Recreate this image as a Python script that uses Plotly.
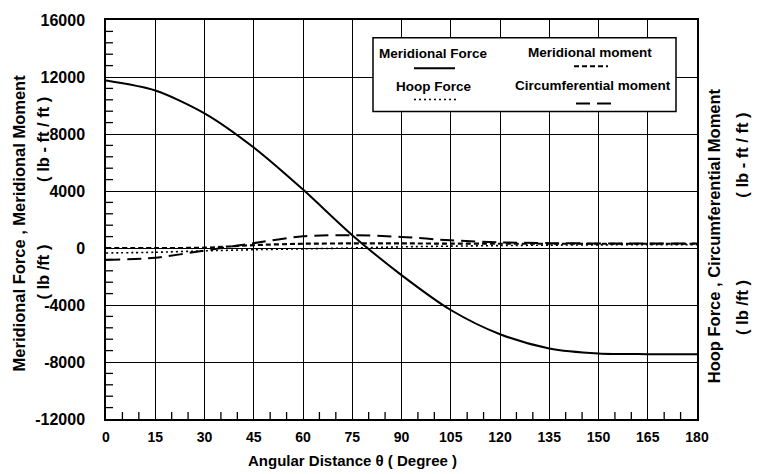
import plotly.graph_objects as go

# ---- data ----
theta = [0, 15, 30, 45, 60, 75, 90, 105, 120, 135, 150, 165, 180]
meridional_force = [11750, 11050, 9450, 7050, 4100, 900, -1900, -4350, -6050, -7050, -7400, -7450, -7450]
meridional_moment = [0, 0, 20, 200, 300, 320, 320, 310, 300, 300, 300, 300, 300]
hoop_force = [-350, -300, -200, -120, -60, 0, 80, 130, 170, 200, 220, 230, 230]
circ_moment = [-850, -680, -180, 340, 820, 900, 780, 540, 400, 340, 320, 310, 310]

x_ticks = [0, 15, 30, 45, 60, 75, 90, 105, 120, 135, 150, 165, 180]
y_ticks = [-12000, -8000, -4000, 0, 4000, 8000, 12000, 16000]
y_labels = ["-12000", "-8000", "-4000", "0", "4000", "8000", "12000", "16000"]
x_minor_step = 5
y_minor_step = 800

FONT = "Liberation Sans, Arial, sans-serif"
W, H = 758, 474
L, R, T, B = 106, 697, 13, 419


def px(x):
    return (x - L) / (R - L)


def py(y):
    return (B - y) / (B - T)


fig = go.Figure()
fig.add_trace(go.Scatter(x=theta, y=meridional_force, mode="lines", name="Meridional Force",
                         line=dict(color="black", width=2, shape="spline", smoothing=0.8)))
fig.add_trace(go.Scatter(x=theta, y=meridional_moment, mode="lines", name="Meridional moment",
                         line=dict(color="black", width=2.2, dash="5px,3px", shape="spline", smoothing=0.8)))
fig.add_trace(go.Scatter(x=theta, y=hoop_force, mode="lines", name="Hoop Force",
                         line=dict(color="black", width=1.6, dash="2px,3px", shape="spline", smoothing=0.8)))
fig.add_trace(go.Scatter(x=theta, y=circ_moment, mode="lines", name="Circumferential moment",
                         line=dict(color="black", width=2, dash="14px,7px", shape="spline", smoothing=0.8)))

# minor tick marks along the bottom and left axes (half of each marker is clipped by the plot area)
x_min, x_max = x_ticks[0], x_ticks[-1]
y_min, y_max = y_ticks[0], y_ticks[-1]
x_minor = [v for v in range(x_min, x_max + 1, x_minor_step) if v not in x_ticks]
y_minor = [v for v in range(y_min, y_max + 1, y_minor_step) if v not in y_ticks]
fig.add_trace(go.Scatter(x=x_minor, y=[y_min] * len(x_minor), mode="markers", hoverinfo="skip",
                         marker=dict(symbol="line-ns", size=10, color="black",
                                     line=dict(color="black", width=1.3))))
fig.add_trace(go.Scatter(x=[x_min] * len(y_minor), y=y_minor, mode="markers", hoverinfo="skip",
                         marker=dict(symbol="line-ew", size=10, color="black",
                                     line=dict(color="black", width=1.3))))

axis_common = dict(showline=True, linecolor="black", linewidth=1.5, mirror=True,
                   showgrid=True, gridcolor="black", gridwidth=1.3, zeroline=False,
                   ticks="inside", ticklen=5, tickcolor="black", tickwidth=1.3)

fig.update_xaxes(range=[x_min, x_max], tickmode="array", tickvals=x_ticks, ticktext=[str(v) for v in x_ticks],
                 ticklabelstandoff=4,
                 tickfont=dict(family=FONT, size=14, color="black", weight="bold"),
                 **axis_common)
fig.update_yaxes(range=[y_min, y_max], tickmode="array", tickvals=y_ticks, ticktext=y_labels,
                 ticklabelstandoff=16,
                 tickfont=dict(family=FONT, size=16, color="black", weight="bold"),
                 **axis_common)

ann = []
tf = dict(family=FONT, size=16.5, color="black", weight="bold")
C = dict(xref="paper", yref="paper", showarrow=False, xanchor="center", yanchor="middle")
# x axis title
ann.append(dict(text="Angular Distance θ ( Degree )", x=px(352), y=py(461),
                font=dict(family=FONT, size=15, color="black", weight="bold"), **C))
# left titles
ann.append(dict(text="Meridional Force , Meridional Moment", x=px(19), y=py(220), textangle=-90, font=tf, **C))
ann.append(dict(text="( lb - ft / ft )", x=px(43), y=py(135), textangle=-90, font=tf, **C))
ann.append(dict(text="( lb /ft )", x=px(43), y=py(270), textangle=-90, font=tf, **C))
# right titles
ann.append(dict(text="Hoop Force , Circumferential Moment", x=px(714), y=py(232), textangle=-90, font=tf, **C))
ann.append(dict(text="( lb - ft / ft )", x=px(742), y=py(150), textangle=-90, font=tf, **C))
ann.append(dict(text="( lb /ft )", x=px(742), y=py(305), textangle=-90, font=tf, **C))

# legend (custom layout: label above sample)
lf = dict(family=FONT, size=13.5, color="black", weight="bold")
legend_items = [
    ("Meridional Force", 433, 47, 414, 455, 62, "solid", 2),
    ("Meridional moment", 590, 46, 574, 608, 60, "5px,3px", 2),
    ("Hoop Force", 433, 81, 414, 457, 94, "2px,3px", 1.5),
    ("Circumferential moment", 593, 80, 576, 611, 98, "14px,7px", 2),
]
shapes = [dict(type="rect", xref="paper", yref="paper", x0=px(373), x1=px(676), y0=py(106), y1=py(31),
               line=dict(color="black", width=1.5), fillcolor="white", layer="above")]
for label, tx, ty, lx0, lx1, ly, dash, w in legend_items:
    ann.append(dict(text=label, x=px(tx), y=py(ty), font=lf, **C))
    shapes.append(dict(type="line", xref="paper", yref="paper", x0=px(lx0), x1=px(lx1), y0=py(ly), y1=py(ly),
                       line=dict(color="black", width=w, dash=dash), layer="above"))

fig.update_layout(width=W, height=H, margin=dict(l=L, r=W - R, t=T, b=H - B),
                  paper_bgcolor="white", plot_bgcolor="white", showlegend=False,
                  annotations=ann, shapes=shapes,
                  font=dict(family=FONT, color="black"))

fig.write_html("out.html")
